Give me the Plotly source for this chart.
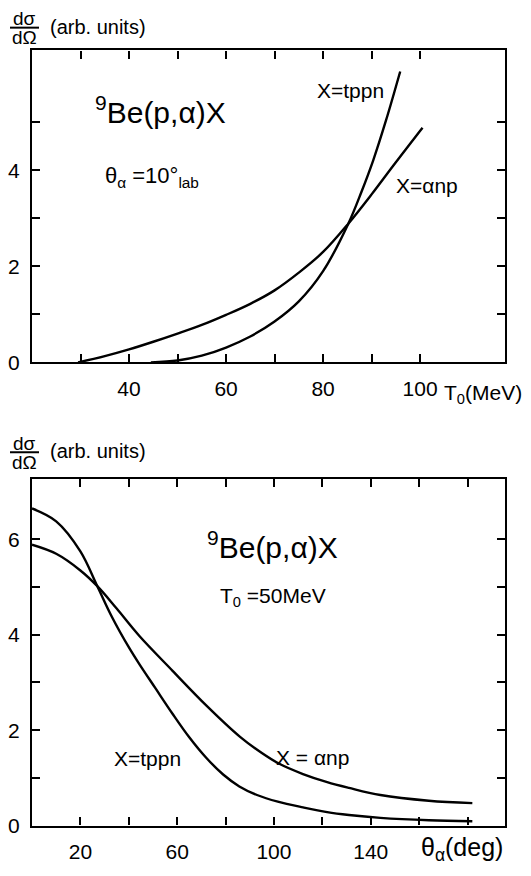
import plotly.graph_objects as go

# ---- Upper panel: 9Be(p,alpha)X at theta_alpha = 10 deg (lab), vs T0 ----
t0_tppn = [44.5, 50, 55, 60, 65, 70, 75, 80, 85.2, 87.9, 90.3, 93, 95.9]
sig_tppn_t0 = [0.0, 0.04, 0.14, 0.31, 0.54, 0.85, 1.27, 1.9, 2.89, 3.55, 4.2, 5.05, 6.06]

t0_anp = [29.5, 35, 40, 45, 50, 55, 60, 65, 70, 75, 80, 85.2, 90, 95, 100.5]
sig_anp_t0 = [0.0, 0.13, 0.27, 0.43, 0.6, 0.78, 0.99, 1.22, 1.5, 1.87, 2.3, 2.89, 3.5, 4.17, 4.89]

# ---- Lower panel: 9Be(p,alpha)X at T0 = 50 MeV, vs theta_alpha ----
th_tppn = [0, 10, 20, 27, 33, 40, 44.3, 51, 58, 65, 72, 79, 85.7, 93, 101.6, 112, 122, 131, 144,
           164, 182]
sig_tppn_th = [6.65, 6.38, 5.75, 5.02, 4.38, 3.74, 3.39, 2.88, 2.35, 1.85, 1.42, 1.07, 0.82, 0.64,
               0.5, 0.38, 0.28, 0.22, 0.16, 0.11, 0.09]

th_anp = [0, 10, 20, 27, 35, 44.3, 58, 72, 86, 95, 102, 112, 122, 131, 144, 164, 182]
sig_anp_th = [5.89, 5.7, 5.35, 5.02, 4.55, 3.98, 3.25, 2.52, 1.86, 1.52, 1.3, 1.08, 0.91, 0.79,
              0.64, 0.52, 0.47]

# tick positions / labels
top_x_ticks = [30, 40, 50, 60, 70, 80, 90, 100]
top_x_text = ["", "40", "", "60", "", "80", "", "100"]
top_y_ticks = [0, 1, 2, 3, 4, 5]
top_y_text = ["0", "", "2", "", "4", ""]
bot_x_ticks = [20, 40, 60, 80, 100, 120, 140, 160, 180]
bot_x_text = ["20", "", "60", "", "100", "", "140", "", ""]
bot_y_ticks = [0, 1, 2, 3, 4, 5, 6]
bot_y_text = ["0", "", "2", "", "4", "", "6"]

FONT = "Liberation Sans"
W, H = 531, 876
line = dict(color="black", width=2.4)

fig = go.Figure()
for xs, ys, xa, ya in [(t0_tppn, sig_tppn_t0, "x", "y"), (t0_anp, sig_anp_t0, "x", "y"),
                       (th_tppn, sig_tppn_th, "x2", "y2"), (th_anp, sig_anp_th, "x2", "y2")]:
    fig.add_trace(go.Scatter(x=xs, y=ys, mode="lines", line=dict(**line, shape="spline", smoothing=1.0),
                             xaxis=xa, yaxis=ya, showlegend=False, hoverinfo="skip"))

axis_common = dict(showgrid=False, zeroline=False, showline=True, linecolor="black", linewidth=2.4,
                   mirror="ticks", ticks="inside", ticklen=8, tickwidth=2.2, tickcolor="black",
                   tickfont=dict(family=FONT, size=21, color="black"), ticklabelstandoff=6)

xdom = [32 / W, 505 / W]
fig.update_layout(
    width=W, height=H, margin=dict(l=0, r=0, t=0, b=0),
    paper_bgcolor="white", plot_bgcolor="white",
    font=dict(family=FONT, color="black"),
    xaxis=dict(domain=xdom, range=[20, 117.5], anchor="y", tickmode="array",
               tickvals=top_x_ticks, ticktext=top_x_text, **axis_common),
    yaxis=dict(domain=[(H - 367) / H, (H - 51) / H], range=[0, 6.5], anchor="x", tickmode="array",
               tickvals=top_y_ticks, ticktext=top_y_text, **axis_common),
    xaxis2=dict(domain=xdom, range=[0, 195.5], anchor="y2", tickmode="array",
                tickvals=bot_x_ticks, ticktext=bot_x_text, **axis_common),
    yaxis2=dict(domain=[(H - 836) / H, (H - 485) / H], range=[0, 7.27], anchor="x2", tickmode="array",
                tickvals=bot_y_ticks, ticktext=bot_y_text, **axis_common),
)


def note(text, x, y, size, xref="x", yref="y", **kw):
    fig.add_annotation(text=text, x=x, y=y, xref=xref, yref=yref, showarrow=False,
                       xanchor="center", yanchor="middle",
                       font=dict(family=FONT, size=size, color="black"), **kw)


def py(pix):
    """Paper y coordinate for a pixel row measured from the top."""
    return 1 - pix / H


def px(pix):
    """Paper x coordinate for a pixel column measured from the left."""
    return pix / W


# upper panel texts
note("<sup>9</sup>Be(p,α)X", 46.5, 5.26, 30)
note("θ<sub>α</sub> =10°<sub>lab</sub>", 44.8, 3.86, 22)
note("X=tppn", 85.6, 5.67, 21)
note("X=αnp", 101.5, 3.69, 21)
note("T<sub>0</sub>(MeV)", px(483), py(399), 21, xref="paper", yref="paper")

# lower panel texts
note("<sup>9</sup>Be(p,α)X", 99.2, 5.88, 30, xref="x2", yref="y2")
note("T<sub>0</sub> =50MeV", 99.6, 4.8, 21, xref="x2", yref="y2")
note("X=tppn", 47.8, 1.41, 21, xref="x2", yref="y2")
note("X = αnp", 116.1, 1.43, 21, xref="x2", yref="y2")
note("θ<sub>α</sub>(deg)", px(462), py(860), 25, xref="paper", yref="paper")

# y-axis titles: dσ/dΩ (arb. units)
for top in (0, 430):
    note("dσ", px(24), py(19 + top), 19, xref="paper", yref="paper")
    note("dΩ", px(24), py(38 + top), 19, xref="paper", yref="paper")
    fig.add_shape(type="line", xref="paper", yref="paper", x0=px(10), x1=px(39),
                  y0=py(28 + top), y1=py(28 + top), line=dict(color="black", width=2))
    note("(arb. units)", px(98), py(27 + top), 20, xref="paper", yref="paper")

fig.write_html("out.html")
